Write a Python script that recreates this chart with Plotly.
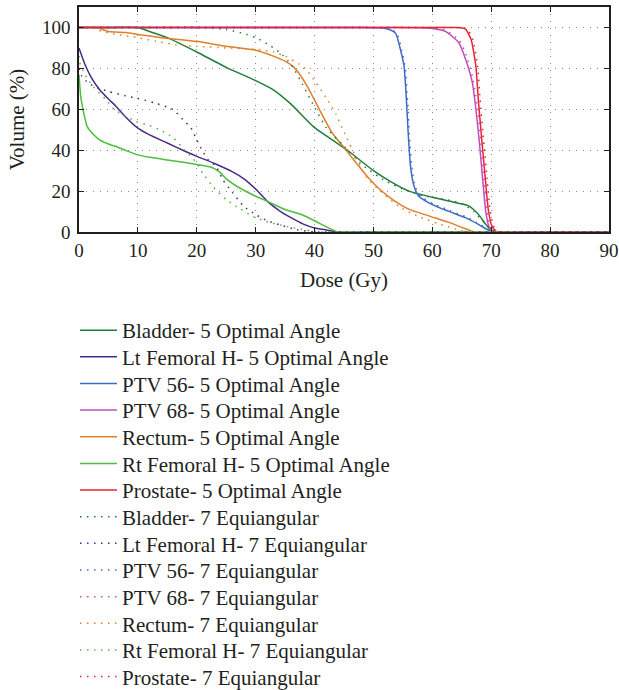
import plotly.graph_objects as go

# ---- data (Dose in Gy, Volume in %) ----
bladder5_d = [0, 6, 10, 12, 15, 20, 25, 30, 33, 36, 40, 43, 46, 50, 53, 56, 60, 63, 66, 67, 68, 69, 70, 71, 75, 90]
bladder5_v = [100, 100, 100, 98, 95, 88, 80.5, 74, 69.5, 62.5, 51, 45, 39, 30, 24.5, 20, 17, 15, 13, 11, 8, 4, 1, 0, 0, 0]

ltfem5_d = [0, 1, 2, 3.5, 5, 6.3, 8, 10, 12, 15, 18, 20, 23, 26, 28, 30, 32, 34, 36, 38, 40, 42, 44, 50, 90]
ltfem5_v = [90, 82, 76, 69.5, 65, 61.4, 56, 50.8, 47.5, 43.5, 39.5, 37, 33.5, 29.5, 26, 21, 15, 10.5, 7, 4, 2, 1, 0, 0, 0]

ptv56_5_d = [0, 40, 48, 51, 52.7, 53.8, 54.6, 55.2, 55.6, 55.9, 56.3, 56.9, 57.7, 60, 62.8, 65.7, 67.9, 69.6, 70.5, 75, 90]
ptv56_5_v = [100, 100, 100, 99.8, 99, 97, 89, 81, 64.6, 48.4, 32, 22.4, 17.5, 13.4, 10.1, 6.9, 3.6, 0.8, 0, 0, 0]

ptv68_5_d = [0, 40, 54, 58, 60, 62.3, 64.5, 65.7, 66.8, 67.4, 68, 68.6, 69.1, 69.7, 70.5, 75, 90]
ptv68_5_v = [100, 100, 100, 99.9, 99.5, 98, 92.5, 84, 73, 60, 43.5, 24, 9.3, 2, 0, 0, 0]

rect5_d = [0, 3, 4, 5, 8, 10, 14, 20, 25, 30, 33, 35, 36.5, 37.5, 39, 40.8, 43, 44.8, 47, 49.3, 51, 53.2, 56, 59.4, 62.8, 65.7, 67, 72, 90]
rect5_v = [100, 100, 99, 98, 97.5, 96.6, 95, 93.2, 90.8, 88.9, 86, 83.5, 80.5, 77, 70, 60, 48.4, 42, 34, 26, 21, 16, 11.2, 7.9, 4.7, 1.5, 0, 0, 0]

rtfem5_d = [0, 0.3, 0.7, 1.4, 2.5, 3.5, 5, 6.3, 8, 10, 12, 15, 18, 20, 22, 23, 24, 25, 27, 30, 32, 35, 38, 40, 42, 44, 50, 90]
rtfem5_v = [77, 66, 59.6, 51.5, 47.5, 45, 43, 41.8, 39.8, 37.7, 36.5, 35.2, 34, 33, 32, 31, 29, 26, 22, 17.5, 15, 11, 8.3, 5.5, 2.5, 0, 0, 0]

prost5_d = [0, 40, 60, 64, 65.1, 65.7, 66.6, 67.4, 67.8, 68.4, 69, 69.5, 70.1, 71, 76, 90]
prost5_v = [100, 100, 100, 100, 99.7, 99, 94, 81, 65, 45, 26, 11, 3, 0, 0, 0]

bladder7_d = [0, 10, 20, 25, 28, 30, 32, 34, 36, 38, 40, 42, 45, 48, 52, 55, 58, 62, 65, 67, 69, 70, 71, 75, 90]
bladder7_v = [100, 100, 100, 99, 97, 95, 92, 88, 82, 72, 61, 51, 42, 33, 25, 21, 18, 16, 14, 10, 4, 1, 0, 0, 0]

ltfem7_d = [0, 0.5, 1.5, 2.7, 5, 8, 10, 13, 16, 17.6, 19, 20, 21, 22, 23.3, 24.4, 26, 28, 30, 32, 34, 37, 40, 45, 90]
ltfem7_v = [80, 76, 73, 71, 68.7, 66.5, 65.3, 63, 59.8, 55, 51, 45, 39.4, 35, 32, 25.6, 19.5, 12.5, 8.5, 5.5, 3.6, 1.1, 0, 0, 0]

ptv56_7_d = [0, 40, 48, 51.5, 53, 54, 54.8, 55.4, 55.8, 56.1, 56.5, 57.1, 58, 60, 63, 66, 68, 69.8, 70.7, 75, 90]
ptv56_7_v = [100, 100, 100, 99.8, 99, 97, 89, 80, 64, 48, 32, 22, 17.5, 14, 10.5, 7, 3.8, 0.8, 0, 0, 0]

ptv68_7_d = [0, 40, 54, 58, 60, 62.3, 64.5, 65.7, 66.8, 67.6, 68.2, 68.8, 69.3, 69.9, 70.7, 75, 90]
ptv68_7_v = [100, 100, 100, 99.9, 99.6, 98.5, 94, 87, 76, 62, 45, 25, 10, 2, 0, 0, 0]

rect7_d = [0, 2, 4, 6.6, 10, 13.1, 16.5, 20, 25, 30, 33, 35, 37.4, 38.5, 40.2, 41.9, 43.6, 45.3, 47, 48.7, 51, 54.4, 57.8, 61.8, 64, 66, 72, 90]
rect7_v = [100, 100, 98, 96.5, 95, 93.2, 91.5, 90.8, 90, 89.4, 88, 86, 82, 79.7, 73.2, 66, 57.8, 47, 36.7, 27, 20.4, 12.3, 7.4, 3.3, 1.5, 0, 0, 0]

rtfem7_d = [0, 0.1, 1, 2.4, 4.6, 6, 8, 9.7, 12, 13.7, 16, 18.2, 20, 21, 22.7, 25, 27.2, 29.5, 31.8, 35.2, 38.5, 41, 46, 90]
rtfem7_v = [86, 83, 77, 71, 64.7, 59.8, 56.5, 54, 52, 50, 46, 39.4, 33.7, 28.8, 22.3, 15.8, 11.7, 7.6, 5.2, 2.7, 1, 0, 0, 0]

prost7_d = [0, 40, 60, 64, 65.3, 66, 66.9, 67.7, 68.1, 68.7, 69.3, 69.8, 70.4, 71.3, 76, 90]
prost7_v = [100, 100, 100, 100, 99.7, 99, 94, 81, 65, 45, 26, 11, 3, 0, 0, 0]

x_ticks = [0, 10, 20, 30, 40, 50, 60, 70, 80, 90]
y_ticks = [0, 20, 40, 60, 80, 100]

C_BLADDER = "#1f7f3b"
C_LTFEM = "#4b2a8a"
C_PTV56 = "#3e6bc6"
C_PTV68 = "#c24db8"
C_RECT = "#e07f2c"
C_RTFEM = "#4dbd3e"
C_PROST = "#ea2230"

FONT = "Liberation Serif"
TXT = "#231f20"

series = [
    ("Bladder- 5 Optimal Angle", bladder5_d, bladder5_v, C_BLADDER, "solid"),
    ("Lt Femoral H- 5 Optimal Angle", ltfem5_d, ltfem5_v, C_LTFEM, "solid"),
    ("PTV 56- 5 Optimal Angle", ptv56_5_d, ptv56_5_v, C_PTV56, "solid"),
    ("PTV 68- 5 Optimal Angle", ptv68_5_d, ptv68_5_v, C_PTV68, "solid"),
    ("Rectum- 5 Optimal Angle", rect5_d, rect5_v, C_RECT, "solid"),
    ("Rt Femoral H- 5 Optimal Angle", rtfem5_d, rtfem5_v, C_RTFEM, "solid"),
    ("Prostate- 5 Optimal Angle", prost5_d, prost5_v, C_PROST, "solid"),
    ("Bladder- 7 Equiangular", bladder7_d, bladder7_v, C_BLADDER, "dot"),
    ("Lt Femoral H- 7 Equiangular", ltfem7_d, ltfem7_v, C_LTFEM, "dot"),
    ("PTV 56- 7 Equiangular", ptv56_7_d, ptv56_7_v, C_PTV56, "dot"),
    ("PTV 68- 7 Equiangular", ptv68_7_d, ptv68_7_v, C_PTV68, "dot"),
    ("Rectum- 7 Equiangular", rect7_d, rect7_v, C_RECT, "dot"),
    ("Rt Femoral H- 7 Equiangular", rtfem7_d, rtfem7_v, C_RTFEM, "dot"),
    ("Prostate- 7 Equiangular", prost7_d, prost7_v, C_PROST, "dot"),
]

# layout geometry (pixels)
W, H = 619, 690
ML, MR, MT, MB = 79, 10, 7, 458
PLOT_H = H - MT - MB
PLOT_W = W - ML - MR
LEG_FIRST = 330.5      # centre of first legend row (px from top)
LEG_STEP = 26.65       # row spacing (px)
LEG_LEFT = 75          # left edge of legend box (px)

fig = go.Figure()
legends = {}
for i, (name, d, v, col, style) in enumerate(series):
    dash = "solid" if style == "solid" else "1.5px,5.5px"
    lid = "legend" if i == 0 else f"legend{i + 1}"
    fig.add_trace(go.Scatter(
        x=d, y=v, name=name, mode="lines", legend=lid,
        line=dict(color=col, width=1.5, dash=dash, shape="spline", smoothing=0.5),
    ))
    yc = LEG_FIRST + i * LEG_STEP
    legends[lid] = dict(
        x=(LEG_LEFT - ML) / PLOT_W, xanchor="left",
        y=(MT + PLOT_H - yc) / PLOT_H, yanchor="middle",
        font=dict(family=FONT, size=21, color=TXT),
        bgcolor="rgba(0,0,0,0)", itemwidth=37, borderwidth=0,
    )

axis_common = dict(
    showline=True, linecolor="#231f20", linewidth=1.5, mirror="ticks",
    ticks="inside", ticklen=5, tickcolor="#231f20", tickwidth=1.2,
    showgrid=True, gridcolor="#8a8a8a", gridwidth=1, griddash="1px,6px",
    zeroline=False,
    tickfont=dict(family=FONT, size=19, color=TXT),
    title_font=dict(family=FONT, size=21, color=TXT),
)

fig.update_xaxes(range=[0, 90], tickvals=x_ticks, title_text="Dose (Gy)",
                 title_standoff=13, **axis_common)
fig.update_yaxes(range=[0, 110], tickvals=y_ticks, title_text="Volume (%)",
                 title_standoff=12, ticklabelstandoff=3, **axis_common)

fig.update_layout(
    width=W, height=H,
    margin=dict(l=ML, r=MR, t=MT, b=MB, autoexpand=False),
    plot_bgcolor="white", paper_bgcolor="white",
    font=dict(family=FONT, color=TXT),
    showlegend=True,
    **legends,
)

fig.write_html("out.html")
